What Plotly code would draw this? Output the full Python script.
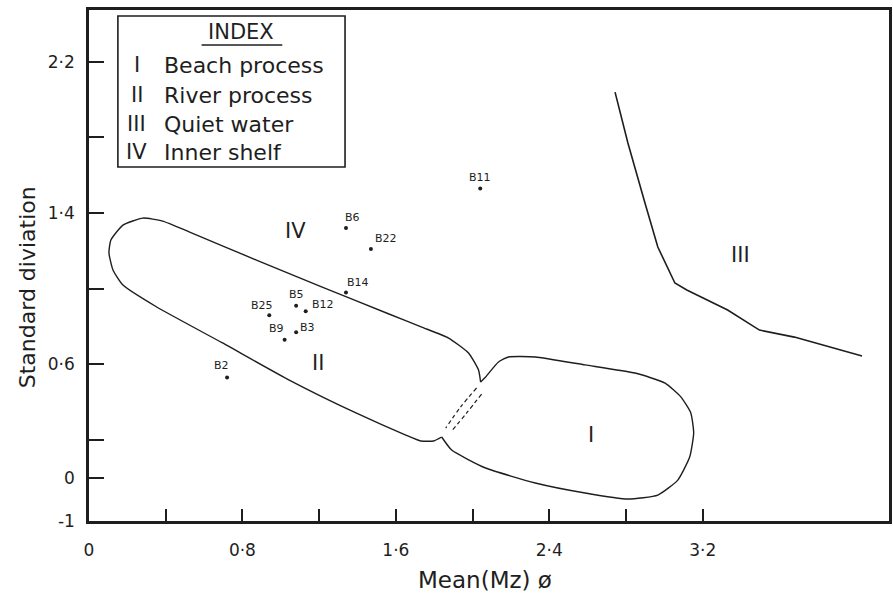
import plotly.graph_objects as go

# ---------------- data ----------------
sample_ids = ["B2", "B3", "B5", "B6", "B9", "B11", "B12", "B14", "B22", "B25"]
mean_mz = [0.72, 1.08, 1.08, 1.34, 1.02, 2.04, 1.13, 1.34, 1.47, 0.94]
std_dev = [0.53, 0.77, 0.91, 1.32, 0.73, 1.53, 0.88, 0.98, 1.21, 0.86]

# Field II (river process) boundary
river_x = [2.042, 2.031, 1.979, 1.875, 1.735, 1.564, 1.216, 0.873, 0.525, 0.384, 0.281, 0.177,
           0.114, 0.104, 0.125, 0.177, 0.353, 0.696, 1.044, 1.392, 1.652, 1.730, 1.797, 1.839]
river_y = [0.506, 0.570, 0.660, 0.739, 0.797, 0.866, 1.008, 1.151, 1.299, 1.357, 1.373, 1.336,
           1.257, 1.189, 1.099, 1.019, 0.903, 0.713, 0.517, 0.343, 0.226, 0.195, 0.195, 0.216]

# Field I (beach process) boundary
beach_x = [1.839, 1.891, 2.068, 2.327, 2.587, 2.810, 2.966, 3.070, 3.132, 3.153, 3.138, 3.086,
           3.004, 2.847, 2.587, 2.327, 2.187, 2.135, 2.068, 2.042]
beach_y = [0.216, 0.147, 0.052, -0.027, -0.080, -0.112, -0.091, -0.012, 0.110, 0.237, 0.343, 0.428,
           0.501, 0.554, 0.597, 0.639, 0.639, 0.612, 0.533, 0.506]

# dashed overlap between fields I and II
overlap_a_x = [2.021, 1.938, 1.860]
overlap_a_y = [0.475, 0.375, 0.263]
overlap_b_x = [2.047, 1.969, 1.886]
overlap_b_y = [0.443, 0.343, 0.242]

# Field III (quiet water) boundary
quiet_x = [2.743, 2.810, 2.899, 2.966, 3.055, 3.117, 3.330, 3.496, 3.678, 4.031]
quiet_y = [2.039, 1.770, 1.453, 1.220, 1.030, 0.993, 0.887, 0.781, 0.744, 0.644]

# field labels
field_labels = ["I", "II", "III", "IV"]
field_names = ["Beach process", "River process", "Quiet water", "Inner shelf"]
field_label_x = [2.618, 1.195, 3.397, 1.075]
field_label_y = [0.226, 0.607, 1.177, 1.304]

# axis ticks
x_tickvals = [0, 0.4, 0.8, 1.2, 1.6, 2.0, 2.4, 2.8, 3.2]
x_ticktext = ["0", "", "0·8", "", "1·6", "", "2·4", "", "3·2"]
y_bottom = -0.228
y_tickvals = [y_bottom, 0, 0.2, 0.6, 1.0, 1.4, 1.8, 2.2]
y_ticktext = ["-1", "0", "", "0·6", "", "1·4", "", "2·2"]

x_title = "Mean(Mz) ø"
y_title = "Standard diviation"
legend_title = "INDEX"

# ---------------- styling ----------------
FONT = "DejaVu Sans"
INK = "#1e1e1e"
W, H = 893, 601
L, R, T, B = 89, 1, 10, 80
PW, PH = W - L - R, H - T - B


def px(x):
    return (x - L) / PW


def py(y):
    return (H - B - y) / PH


label_offsets = {  # pixel offsets of sample labels relative to their points
    "B11": (0, 11), "B6": (7, 11), "B22": (15, 10), "B14": (12, 10), "B5": (0, 11),
    "B12": (17, 7), "B25": (-7, 10), "B9": (-8, 11), "B3": (11, 5), "B2": (-6, 12),
}

fig = go.Figure()

line_style = dict(color=INK, width=1.4, shape="spline", smoothing=0.5)
fig.add_trace(go.Scatter(x=river_x, y=river_y, mode="lines", line=line_style, hoverinfo="skip"))
fig.add_trace(go.Scatter(x=beach_x, y=beach_y, mode="lines", line=line_style, hoverinfo="skip"))
fig.add_trace(go.Scatter(x=quiet_x, y=quiet_y, mode="lines",
                         line=dict(color=INK, width=1.6), hoverinfo="skip"))
for ox, oy in [(overlap_a_x, overlap_a_y), (overlap_b_x, overlap_b_y)]:
    fig.add_trace(go.Scatter(x=ox, y=oy, mode="lines",
                             line=dict(color=INK, width=1.2, dash="4px,3px", shape="spline"),
                             hoverinfo="skip"))

fig.add_trace(go.Scatter(x=mean_mz, y=std_dev, mode="markers",
                         marker=dict(color=INK, size=4), text=sample_ids))

annotations = []
for sid, xv, yv in zip(sample_ids, mean_mz, std_dev):
    dx, dy = label_offsets[sid]
    annotations.append(dict(x=xv, y=yv, text=sid, showarrow=False, xshift=dx, yshift=dy,
                            xanchor="center", yanchor="middle",
                            font=dict(family=FONT, size=11, color=INK)))

for lab, xv, yv in zip(field_labels, field_label_x, field_label_y):
    annotations.append(dict(x=xv, y=yv, text=lab, showarrow=False,
                            xanchor="center", yanchor="middle",
                            font=dict(family=FONT, size=21, color=INK)))


def paper_text(x, y, text, size, xanchor="center", angle=0):
    return dict(xref="paper", yref="paper", x=px(x), y=py(y), text=text, showarrow=False,
                xanchor=xanchor, yanchor="middle", textangle=angle,
                font=dict(family=FONT, size=size, color=INK))


# axis titles
annotations.append(paper_text(486, 580, x_title, 23))
annotations.append(paper_text(27, 287, y_title, 22, angle=-90))

# index box
annotations.append(paper_text(242, 32, legend_title, 21))
legend_rows = [65, 95, 124, 152]
for lab, name, yy in zip(field_labels, field_names, legend_rows):
    annotations.append(paper_text(137, yy, lab, 21))
    annotations.append(paper_text(162, yy, name, 22, xanchor="left"))

shapes = [
    dict(type="rect", xref="paper", yref="paper", x0=px(118), x1=px(346), y0=py(167), y1=py(16),
         line=dict(color=INK, width=1.6), fillcolor="white", layer="below"),
    dict(type="line", xref="paper", yref="paper", x0=px(202), x1=px(283), y0=py(45), y1=py(45),
         line=dict(color=INK, width=1.6)),
]

fig.update_layout(
    width=W, height=H,
    margin=dict(l=L, r=R, t=T, b=B),
    paper_bgcolor="white", plot_bgcolor="white",
    showlegend=False,
    annotations=annotations,
    shapes=shapes,
    font=dict(family=FONT, color=INK),
)
fig.update_xaxes(range=[0, (W - R - L) / 192.5], tickvals=x_tickvals, ticktext=x_ticktext,
                 ticks="inside", ticklen=12, tickwidth=1.6, tickcolor=INK,
                 showline=True, linewidth=2.5, linecolor=INK, mirror=True,
                 showgrid=False, zeroline=False, ticklabelstandoff=12,
                 tickfont=dict(family=FONT, size=17, color=INK))
fig.update_yaxes(range=[y_bottom, y_bottom + PH / 189.2], tickvals=y_tickvals, ticktext=y_ticktext,
                 ticks="inside", ticklen=15, tickwidth=1.6, tickcolor=INK,
                 showline=True, linewidth=2.5, linecolor=INK, mirror=True,
                 showgrid=False, zeroline=False, ticklabelstandoff=8,
                 tickfont=dict(family=FONT, size=17, color=INK))

fig.write_html("out.html")
